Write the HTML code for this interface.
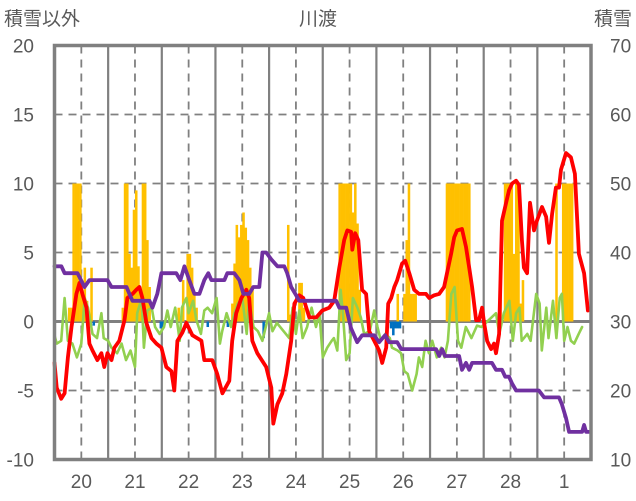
<!DOCTYPE html>
<html><head><meta charset="utf-8">
<style>
html,body{margin:0;padding:0;background:#fff;}
svg{display:block;font-family:"Liberation Sans","Noto Sans CJK JP",sans-serif;}
</style></head>
<body>
<svg id="chart" width="636" height="501" viewBox="0 0 636 501">
<g id="grid"></g>
<g id="marks"></g>
<g id="frame"></g>
<g id="labels" fill="#595959" font-size="19"></g>
<text x="318" y="25" text-anchor="middle" font-size="19" fill="#595959">川渡</text>
<text x="4" y="25" font-size="19" fill="#595959">積雪以外</text>
<text x="632" y="25" text-anchor="end" font-size="19" fill="#595959">積雪</text>
</svg>
<script>
const dayLabels=["20","21","22","23","24","25","26","27","28","1"];
const leftTicks=[20,15,10,5,0,-5,-10];
const rightTicks=[70,60,50,40,30,20,10];
const redHours=[0,1,3,4.5,6,7.6,9.8,11.2,12.5,14.3,15.6,17,19.2,21,22.3,23.7,25.5,26.8,29,31.3,32.6,34.9,36.6,38,39.3,41.1,43.4,45.6,47.8,50,52.3,53.6,55,57.2,59,61.7,65.7,67,70.6,72.8,75.1,78.2,79.5,81.3,83.6,85.8,87.1,88.5,90.7,94.7,97,97.9,99.7,101.9,103.7,105.9,107.3,109.5,111.3,114,117.1,119.8,122.9,125.1,127.4,129.6,131,132.7,133.2,134.5,135.9,137.6,139.4,140.8,143,145.2,146.6,148.4,149.3,150.6,152,153.3,155.5,156.9,158.7,160.9,163.1,166.2,167.6,169.8,172.1,174.3,175.6,177.4,178.8,180.1,182.3,184.1,185.5,186.8,188.6,189.9,191.3,192.2,193.5,195.3,196.6,197.5,198.9,200.2,202,203.3,204.7,206.5,207.8,209.1,210,211.4,212.7,214.5,215.8,218.1,219.9,221.2,222.6,224.3,225.7,226.6,228.8,231,232.8,234.6,236.9,238.6];
const redVals=[-3.0,-4.8,-5.6,-5.2,-2.6,-0.4,2.0,2.8,2.0,1.0,-1.6,-2.1,-2.8,-2.3,-3.3,-2.3,-2.8,-1.9,-1.4,0.1,1.7,2.0,2.3,2.5,1.7,-0.1,-1.2,-1.6,-1.9,-3.3,-3.6,-5.0,-1.4,-0.8,-0.1,-1.0,-1.4,-2.8,-2.8,-3.8,-5.2,-4.3,-1.4,0.6,1.7,2.3,1.7,-1.4,-2.3,-3.3,-4.8,-7.4,-6.0,-5.2,-3.8,-1.4,1.3,1.9,1.7,0.3,0.3,0.8,1.0,1.5,3.9,5.9,6.6,6.5,5.2,6.4,5.9,2.3,2.0,-0.7,-1.4,-2.1,-3.0,-1.9,1.3,1.7,2.5,3.0,4.2,4.4,3.5,2.3,2.0,2.0,1.7,1.9,2.0,2.5,3.5,4.9,6.1,6.6,6.7,5.4,3.9,2.5,0.1,0.1,1.0,-0.1,-1.4,-2.0,-1.6,-2.3,-0.9,7.3,8.6,9.5,10.0,10.2,9.9,5.9,3.9,3.5,8.6,6.6,7.3,8.3,7.6,5.7,7.8,9.7,9.7,11.0,12.2,11.9,10.7,4.9,3.5,0.8];
const greenHours=[0,1,3,4.5,6,8,10,12,13.5,15,17,19,21,22,24,25.5,28,30,32,34,36,37,39,40,41.5,43.5,45,47,49,50.5,52,54,56,57,59,60,62,63.5,65.5,67,68.5,70.5,72.5,74,75,77,79,80.5,82,84,86,87,89,91,93,96,97.5,99.5,105,106.5,108,109.5,111,113,115,117,118.5,120,122,124,125,126.5,128,129,130.5,132,133.5,135.5,137,138.5,141,143,144.5,146,148,150,151,153.5,155,156.5,158,160,162,163,164.5,166,167.5,169,171,173,174.5,176,177.5,179,180.5,182,184,186.5,189,191,197.5,199,201,203.5,205,206.5,208,209,211.5,213,215.5,217,218,220,221,223,224.5,226,227,228,229.5,231,232.5,234.5,236];
const greenVals=[-1.0,-1.6,-1.4,1.7,-1.4,-1.6,-2.6,-1.6,1.7,1.0,-0.9,-1.2,0.6,-1.2,-1.4,-1.9,-2.3,-1.6,-2.8,-2.1,-3.3,0.6,1.7,-1.9,0.8,1.0,-0.4,-0.9,-0.4,0.8,-0.4,1.0,-1.4,1.0,1.7,0.6,1.5,0.1,-0.9,0.8,1.0,0.6,1.7,-1.6,-0.7,0.6,-0.4,0.6,1.3,1.7,-0.9,1.7,-0.4,-0.7,-1.4,0.6,-0.7,-0.1,-1.2,1.0,-0.9,0.8,-1.2,-0.4,1.0,-0.4,0.6,-2.6,-1.9,-1.4,-1.2,-2.1,2.3,0.6,-2.8,-2.3,1.7,1.0,0.3,-0.9,-0.7,0.8,-0.4,-1.4,-0.9,-1.2,-1.9,-2.1,-2.3,-3.6,-3.8,-5.0,-3.8,-2.6,-3.3,-1.4,-2.3,-1.4,-2.6,-1.9,-2.6,-1.4,2.0,2.5,-1.4,-1.9,-0.4,-1.2,-0.3,-0.4,0.6,-0.9,0.6,1.5,-1.4,0.6,1.0,-1.4,-0.9,-1.4,2.0,1.3,-2.1,1.0,-1.2,1.5,-1.2,1.7,2.0,-1.4,-0.4,-1.4,-1.6,-0.9,-0.4];
const snowHours=[0,3.1,4.5,10.3,13.4,15.6,23.7,25.5,32.2,33.5,34.9,42.5,43.8,46,47.8,54.5,56.3,58.1,60.3,62.6,64.8,67,68.8,70.2,76,77.3,80.4,82.7,84.5,87.1,88.9,91.6,93,94.7,97,99.7,102.8,104.1,105.9,107.7,109.5,126,127.4,130.5,132.7,135.4,137.6,143,145.2,147.9,149.7,153.3,155.1,170.7,172.1,173.4,174.7,181,182.3,184.1,185.5,186.8,195.7,197.5,200.2,201.6,203.3,204.7,206.5,216.7,219,225.7,227,228.8,230.2,236,236.9,237.8,239.1];
const snowVals=[38,38,37,37,35,36,36,35,35,34,33,33,32,34,37,37,36,38,36,34,34,36,37,36,36,37,37,36,34,34,35,35,40,40,39,38,38,37,35,34,33,33,32,32,29,27,28,28,27,28,27,27,26,26,25,26,25,25,23,24,23,24,24,23,23,22,22,21,20,20,19,19,18,16,14,14,15,14,14];
const precipHours=[6,7,8,9,10,11,12,13,14,16,30,31,32,33,34,35,36,37,38,39,40,41,42,55,57,59,60,61,62,63,79,80,81,82,83,84,85,86,87,88,104,105,109,110,111,127,128,129,130,131,132,133,134,135,136,153,156,157,158,159,160,161,175,176,177,178,179,180,181,182,183,184,185,199,201,202,203,204,205,206,207,208,209,224,227,228,229,230,231,232];
const precipVals=[1.0,1.0,10,10,10,10,2.0,3.9,1.5,3.9,1.0,10,10,4.9,3.9,8.1,9.5,4.0,2.0,10,10,5.9,2.5,1.0,3.0,4.9,4.9,3.9,1.9,1.0,1.3,4.2,7.0,6.1,7.0,7.9,6.8,5.9,3.9,2.4,7.0,0.5,2.8,2.8,1.0,10,10,10,10,10,10,7.9,10,7.1,2.3,2.0,2.0,5.9,10,2.0,2.0,2.0,10,10,10,10,10,10,10,10,10,10,10,3.0,10,10,10,10,4.9,10,10,1.3,3.0,10,10,10,10,10,10];
const negHours=[17,47,48,68,77,93,150,151,152,153,154];
const negVals=[-0.3,-0.5,-0.5,-0.4,-0.4,-1.2,-0.5,-1.0,-0.5,-0.5,-0.5];

const NS="http://www.w3.org/2000/svg";
const X0=54.5,X1=591,Y0=45.5,Y1=459.5,HOURS=240;
function xh(h){return X0+h*(X1-X0)/HOURS;}
function yL(v){return Y1-(v+10)*(Y1-Y0)/30;}
function yR(v){return Y1-(v-10)*(Y1-Y0)/60;}
function mk(tag,attrs,parent){const e=document.createElementNS(NS,tag);for(const k in attrs)e.setAttribute(k,attrs[k]);parent.appendChild(e);return e;}
const grid=document.getElementById('grid'),marks=document.getElementById('marks'),frame=document.getElementById('frame'),labels=document.getElementById('labels');
// horizontal grid
leftTicks.forEach(v=>{
  if(v===20||v===-10)return;
  const l=mk('line',{x1:X0,x2:X1,y1:yL(v),y2:yL(v),stroke:'#808080','stroke-width':v===0?3:1.8,'stroke-dasharray':v===0?'none':'8,6'},grid);
  
  
});
// vertical grid
for(let d=0;d<10;d++){
  const xn=xh(d*24+12);
  const l=mk('line',{x1:xn,x2:xn,y1:Y0,y2:Y1,stroke:'#808080','stroke-width':1.8,'stroke-dasharray':'8,6'},grid);
  
  
  if(d>0){const xm=xh(d*24);
    const m=mk('line',{x1:xm,x2:xm,y1:Y0,y2:Y1,stroke:'#808080','stroke-width':2.2},grid);
    
    }
  const t=mk('text',{x:xn,y:488,'text-anchor':'middle'},labels);t.textContent=dayLabels[d];
  
  
}
leftTicks.forEach(v=>{const t=mk('text',{x:34,y:yL(v)+7,'text-anchor':'end'},labels);t.textContent=v;
  
  });
rightTicks.forEach(v=>{const t=mk('text',{x:610,y:yR(v)+7},labels);t.textContent=v;
  
  });
// precip bars
const bw=(X1-X0)/HOURS;
precipHours.forEach((h,i)=>{const v=precipVals[i];
  const r=mk('rect',{x:xh(h),y:yL(v),width:bw+0.3,height:yL(0)-yL(v),fill:'#ffc000'},marks);
  
  });
negHours.forEach((h,i)=>{const v=negVals[i];
  const r=mk('rect',{x:xh(h),y:yL(0),width:bw+0.3,height:yL(v)-yL(0),fill:'#0070c0'},marks);
  
  });
function line(hs,vs,yf,color,w,name){
  const d=hs.map((h,i)=>(i?'L':'M')+xh(h).toFixed(1)+','+yf(vs[i]).toFixed(1)).join('');
  const p=mk('path',{d:d,fill:'none',stroke:color,'stroke-width':w,'stroke-linejoin':'round','stroke-linecap':'round'},marks);
  
  
}
line(greenHours,greenVals,yL,'#92d050',2.6,'green-series-line');
line(redHours,redVals,yL,'#ff0000',3.8,'temperature-line');
line(snowHours,snowVals,yR,'#7030a0',3.8,'snow-depth-line');
const fr=mk('rect',{x:X0,y:Y0,width:X1-X0,height:Y1-Y0,fill:'none',stroke:'#808080','stroke-width':3.5},frame);


</script>
</body></html>
